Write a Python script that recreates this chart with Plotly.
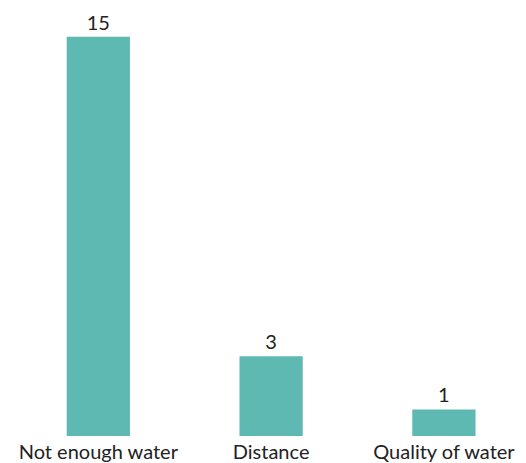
import plotly.graph_objects as go

categories = ["Not enough water", "Distance", "Quality of water"]
values = [15, 3, 1]
bar_color = "#5EB9B3"

fig = go.Figure(
    go.Bar(
        x=categories,
        y=values,
        width=0.366,
        marker=dict(color=bar_color, line=dict(width=0)),
        text=[str(v) for v in values],
        textposition="outside",
        textfont=dict(family="Lato", size=20, color="#222222"),
        cliponaxis=False,
    )
)

fig.update_layout(
    width=526,
    height=463,
    margin=dict(l=0, r=0, t=0, b=27),
    paper_bgcolor="white",
    plot_bgcolor="white",
    showlegend=False,
    xaxis=dict(
        range=[-0.569, 2.475],
        showgrid=False,
        showline=False,
        zeroline=False,
        ticks="",
        ticklabelstandoff=2,
        tickfont=dict(family="Lato", size=20, color="#222222"),
    ),
    yaxis=dict(
        range=[0, 16.38],
        visible=False,
    ),
)

fig.write_html("out.html")
